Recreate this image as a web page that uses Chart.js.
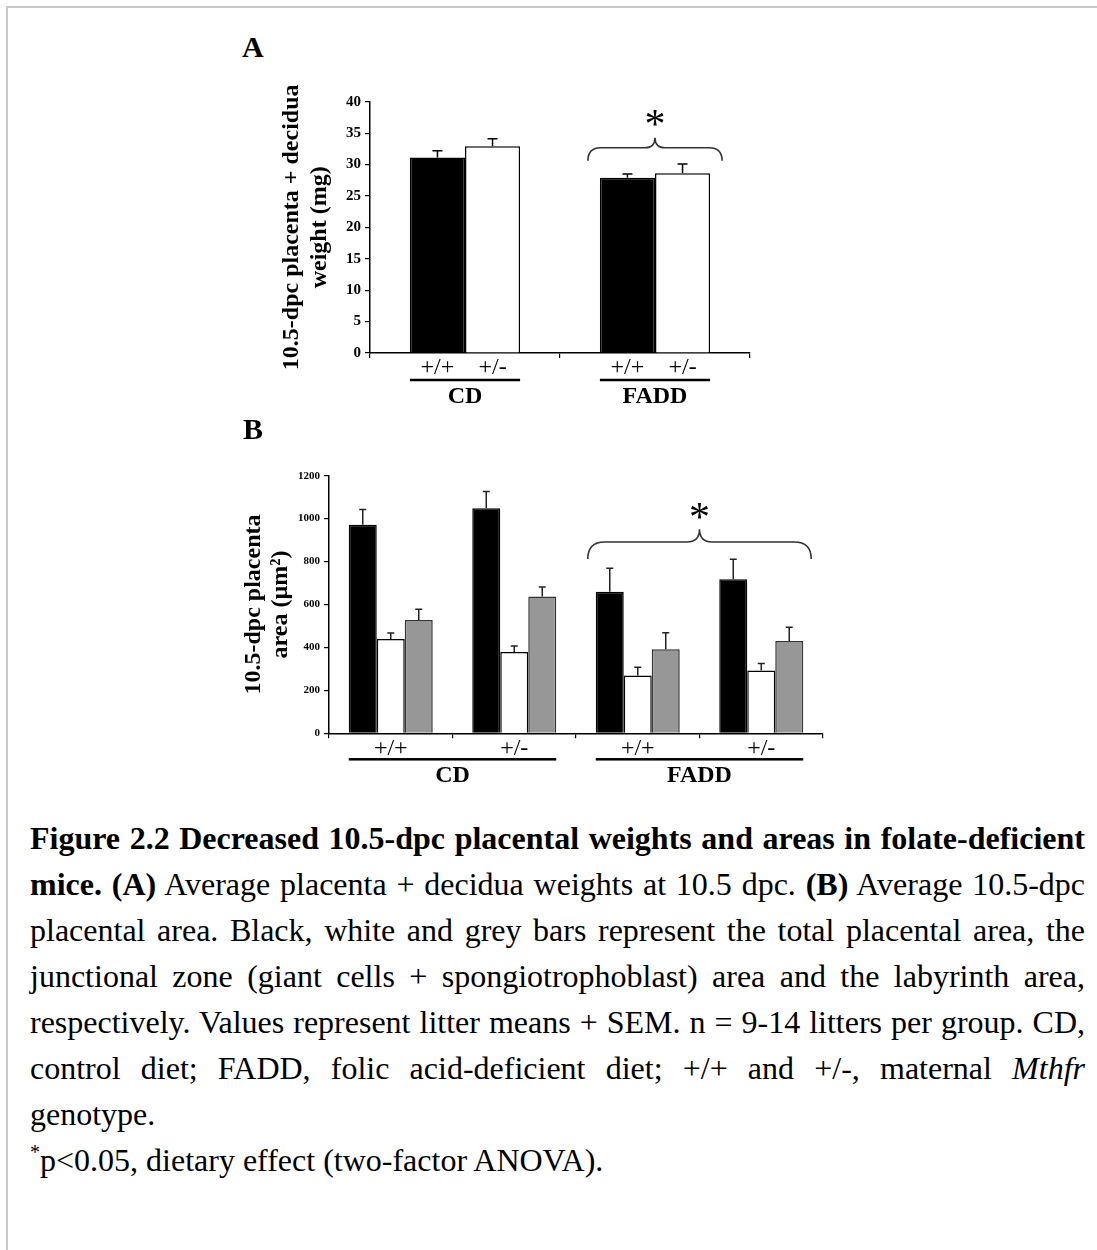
<!DOCTYPE html>
<html>
<head>
<meta charset="utf-8">
<title>Figure 2.2</title>
<script src="https://cdn.jsdelivr.net/npm/chart.js@4"></script>
<style>
  body { margin: 0; background: #fff; }
  #page { position: relative; width: 1097px; height: 1250px; overflow: hidden; font-family: 'Liberation Serif', 'Times New Roman', serif; }
  #frame { position: absolute; left: 6px; top: 6px; width: 1200px; height: 1300px; border-top: 2px solid #c8c8c8; border-left: 2px solid #c8c8c8; }
  .panel-letter { position: absolute; font-weight: bold; font-size: 30px; line-height: 30px; }
  canvas { position: absolute; }
  #caption { position: absolute; left: 30px; top: 815px; width: 1055px; font-size: 32px; line-height: 46px; color: #000; }
  #caption .ln { display: block; text-align: justify; text-align-last: justify; white-space: nowrap; }
  #caption .ln.last { text-align-last: left; }
  #caption sup { font-size: 20px; line-height: 0; vertical-align: 12px; }
</style>
</head>
<body>
<div id="page">
  <div id="frame"></div>
  <div class="panel-letter" style="left:242px; top:32px;">A</div>
  <canvas id="chartA" width="540" height="360" style="left:230px; top:60px;"></canvas>
  <div class="panel-letter" style="left:243px; top:414px;">B</div>
  <canvas id="chartB" width="620" height="360" style="left:230px; top:440px;"></canvas>
  <div id="caption">
    <span class="ln"><b>Figure 2.2 Decreased 10.5-dpc placental weights and areas in folate-deficient</b></span>
    <span class="ln"><b>mice. (A)</b> Average placenta + decidua weights at 10.5 dpc. <b>(B)</b> Average 10.5-dpc</span>
    <span class="ln">placental area. Black, white and grey bars represent the total placental area, the</span>
    <span class="ln">junctional zone (giant cells + spongiotrophoblast) area and the labyrinth area,</span>
    <span class="ln">respectively. Values represent litter means + SEM. n = 9-14 litters per group. CD,</span>
    <span class="ln">control diet; FADD, folic acid-deficient diet; +/+ and +/-, maternal <i>Mthfr</i></span>
    <span class="ln last">genotype.</span>
    <span class="ln last"><sup>*</sup>p&lt;0.05, dietary effect (two-factor ANOVA).</span>
  </div>
</div>

<script>
// Panel A - placenta + decidua weight (mg), by diet
const dietGroups = ['CD', 'FADD'];
const weightWT = [31.1, 27.9];
const weightWTErr = [1.1, 0.6];
const weightHet = [32.9, 28.6];
const weightHetErr = [1.2, 1.5];

// Panel B - placental area, by diet and maternal genotype
const areaGenotypes = ['+/+', '+/-', '+/+', '+/-'];
const totalArea = [972, 1048, 659, 718];
const totalAreaErr = [70, 78, 110, 93];
const junctionalArea = [439, 379, 269, 292];
const junctionalAreaErr = [28, 28, 39, 33];
const labyrinthArea = [528, 637, 392, 430];
const labyrinthAreaErr = [50, 45, 76, 64];

const SERIF = "'Liberation Serif', 'Times New Roman', serif";

// draws error bars, genotype/diet labels, underlines and the significance brace
const decorPlugin = {
    id: 'decor',
    afterDatasetsDraw(chart, args, opts) {
        const ctx = chart.ctx;
        const area = chart.chartArea;
        const yScale = chart.scales.y;
        const axisY = area.bottom;
        const datasets = chart.data.datasets;
        ctx.save();

        // error bars (mean + SEM)
        datasets.forEach((ds, i) => {
            const meta = chart.getDatasetMeta(i);
            meta.data.forEach((bar, j) => {
                const top = yScale.getPixelForValue(ds.data[j] + ds.errors[j]);
                ctx.strokeStyle = opts.errColor;
                ctx.lineWidth = 1.5;
                ctx.beginPath();
                ctx.moveTo(bar.x, bar.y);
                ctx.lineTo(bar.x, top);
                ctx.moveTo(bar.x - opts.capHalf, top);
                ctx.lineTo(bar.x + opts.capHalf, top);
                ctx.stroke();
            });
        });

        ctx.fillStyle = '#000';
        ctx.textAlign = 'center';
        ctx.textBaseline = 'middle';

        // genotype label under each bar (panel A)
        if (opts.barLabels) {
            ctx.font = '24px ' + SERIF;
            datasets.forEach((ds, i) => {
                chart.getDatasetMeta(i).data.forEach(bar => {
                    ctx.fillText(ds.label, bar.x, axisY + opts.barLabelOffset);
                });
            });
        }

        // diet groups: underline + label
        const first = chart.getDatasetMeta(0).data;
        const last = chart.getDatasetMeta(datasets.length - 1).data;
        const spans = opts.groups.map(g => {
            const left = first[g.from].x - first[g.from].width / 2;
            const right = last[g.to].x + last[g.to].width / 2;
            ctx.fillRect(left, axisY + opts.lineOffset - 1.25, right - left, 2.5);
            ctx.font = 'bold 24px ' + SERIF;
            ctx.fillText(g.label, (left + right) / 2, axisY + opts.groupLabelOffset);
            return { left, right };
        });

        // brace with asterisk over the FADD group
        const b = opts.brace;
        const span = spans[b.group];
        const x0 = span.left - b.pad;
        const x1 = span.right + b.pad;
        const xm = (x0 + x1) / 2;
        const yEnd = yScale.getPixelForValue(b.value);
        const yFlat = yEnd - b.hook;
        const yPeak = yFlat - b.peak;
        ctx.strokeStyle = '#333';
        ctx.lineWidth = 1.6;
        ctx.beginPath();
        ctx.moveTo(x0, yEnd);
        ctx.quadraticCurveTo(x0, yFlat, x0 + b.hook, yFlat);
        ctx.lineTo(xm - b.peak, yFlat);
        ctx.quadraticCurveTo(xm, yFlat, xm, yPeak);
        ctx.quadraticCurveTo(xm, yFlat, xm + b.peak, yFlat);
        ctx.lineTo(x1 - b.hook, yFlat);
        ctx.quadraticCurveTo(x1, yFlat, x1, yEnd);
        ctx.stroke();
        ctx.font = '42px ' + SERIF;
        ctx.textBaseline = 'alphabetic';
        ctx.fillText('*', xm, yPeak - b.starGap + 19);

        ctx.restore();
    }
};

function axisStyle(tickSize) {
    return {
        border: { display: true, color: '#000', width: 1.5 },
        grid: { display: true, drawOnChartArea: false, drawTicks: true, tickLength: 5, color: '#000', lineWidth: 1.2 },
        ticks: { color: '#000', font: { family: SERIF, size: tickSize, weight: 'bold' } }
    };
}

// ---- Panel A ----
const ay = axisStyle(15);
const ax = axisStyle(15);
new Chart(document.getElementById('chartA'), {
    type: 'bar',
    data: {
        labels: dietGroups,
        datasets: [{
            label: '+/+',
            data: weightWT,
            errors: weightWTErr,
            backgroundColor: '#000',
            borderColor: '#000',
            borderWidth: 1.5
        }, {
            label: '+/-',
            data: weightHet,
            errors: weightHetErr,
            backgroundColor: '#fff',
            borderColor: '#000',
            borderWidth: 1.5
        }]
    },
    options: {
        responsive: false,
        animation: false,
        events: [],
        categoryPercentage: 0.58,
        barPercentage: 1.0,
        layout: { padding: { top: 41.7, right: 20, left: 0, bottom: 0 } },
        plugins: {
            legend: { display: false },
            tooltip: { enabled: false },
            decor: {
                errColor: '#000',
                capHalf: 5,
                barLabels: true,
                barLabelOffset: 15,
                lineOffset: 27,
                groupLabelOffset: 44,
                groups: [{ label: 'CD', from: 0, to: 0 }, { label: 'FADD', from: 1, to: 1 }],
                brace: { group: 1, value: 30.6, pad: 12, hook: 13, peak: 10, starGap: 19 }
            }
        },
        scales: {
            x: {
                border: ax.border,
                grid: Object.assign({}, ax.grid, { offset: true }),
                ticks: { display: false },
                afterFit: s => { s.height = 67; }
            },
            y: {
                min: 0,
                max: 40,
                border: ay.border,
                grid: ay.grid,
                ticks: Object.assign({}, ay.ticks, { stepSize: 5, padding: 4 }),
                title: {
                    display: true,
                    text: ['10.5-dpc placenta + decidua', 'weight (mg)'],
                    color: '#000',
                    font: { family: SERIF, size: 24, weight: 'bold', lineHeight: 1.17 },
                    padding: { top: 48, bottom: 0 }
                },
                afterFit: s => { s.width = 140; }
            }
        }
    },
    plugins: [decorPlugin]
});

// ---- Panel B ----
const by = axisStyle(11);
const bx = axisStyle(24);
new Chart(document.getElementById('chartB'), {
    type: 'bar',
    data: {
        labels: areaGenotypes,
        datasets: [{
            label: 'Total',
            data: totalArea,
            errors: totalAreaErr,
            backgroundColor: '#000',
            borderColor: '#000',
            borderWidth: 1.5
        }, {
            label: 'Junctional zone',
            data: junctionalArea,
            errors: junctionalAreaErr,
            backgroundColor: '#fff',
            borderColor: '#000',
            borderWidth: 1.5
        }, {
            label: 'Labyrinth',
            data: labyrinthArea,
            errors: labyrinthAreaErr,
            backgroundColor: '#979797',
            borderColor: '#333',
            borderWidth: 1.5
        }]
    },
    options: {
        responsive: false,
        animation: false,
        events: [],
        categoryPercentage: 0.68,
        barPercentage: 1.0,
        layout: { padding: { top: 35.7, right: 27, left: 0, bottom: 0 } },
        plugins: {
            legend: { display: false },
            tooltip: { enabled: false },
            decor: {
                errColor: '#222',
                capHalf: 3.5,
                barLabels: false,
                lineOffset: 26,
                groupLabelOffset: 42,
                groups: [{ label: 'CD', from: 0, to: 1 }, { label: 'FADD', from: 2, to: 3 }],
                brace: { group: 1, value: 812, pad: 8, hook: 17, peak: 12.7, starGap: 17 }
            }
        },
        scales: {
            x: {
                border: bx.border,
                grid: Object.assign({}, bx.grid, { offset: true }),
                ticks: { color: '#000', font: { family: SERIF, size: 24, weight: 'normal', lineHeight: 1 }, padding: -2, maxRotation: 0 },
                afterFit: s => { s.height = 66.7; }
            },
            y: {
                min: 0,
                max: 1200,
                border: by.border,
                grid: by.grid,
                ticks: Object.assign({}, by.ticks, { stepSize: 200, padding: 4, callback: v => String(v) }),
                title: {
                    display: true,
                    text: ['10.5-dpc placenta', 'area (\u00b5m\u00b2)'],
                    color: '#000',
                    font: { family: SERIF, size: 24, weight: 'bold', lineHeight: 1.13 },
                    padding: { top: 10.5, bottom: 0 }
                },
                afterFit: s => { s.width = 99; }
            }
        }
    },
    plugins: [decorPlugin]
});
</script>
</body>
</html>
